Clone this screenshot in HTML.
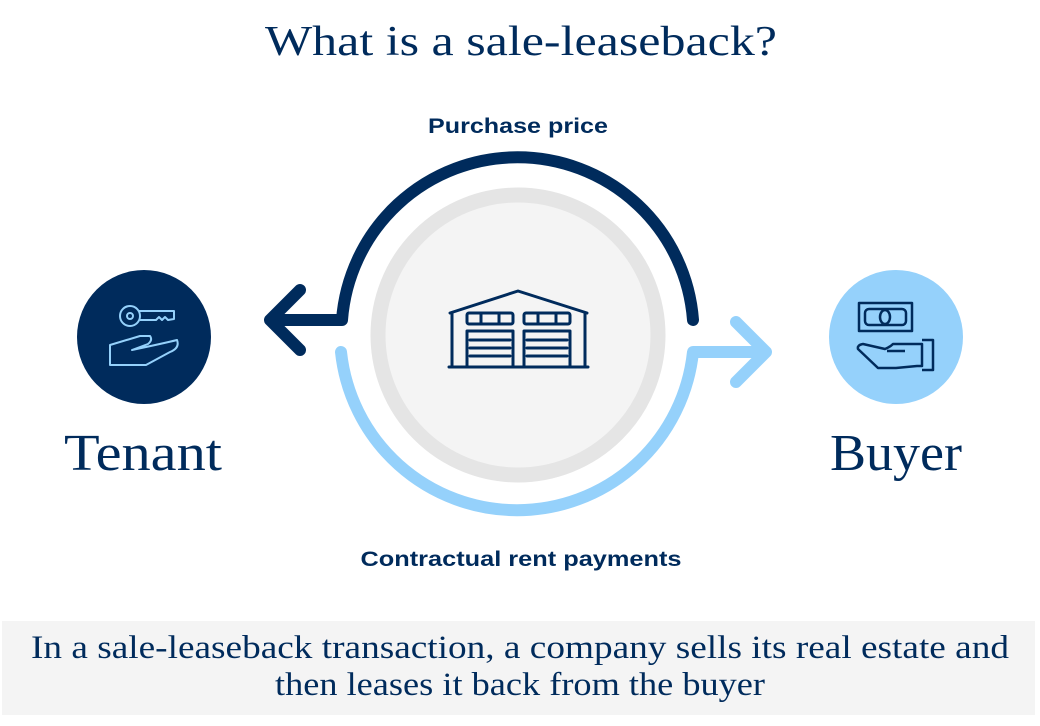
<!DOCTYPE html>
<html><head><meta charset="utf-8"><style>html,body{margin:0;padding:0;background:#fff}svg{display:block}</style></head>
<body>
<svg width="1040" height="726" viewBox="0 0 1040 726" xmlns="http://www.w3.org/2000/svg">
<text x="521" y="55" font-family="Liberation Serif, serif" font-size="42" fill="#002b5c" text-anchor="middle" textLength="512" lengthAdjust="spacingAndGlyphs">What is a sale-leaseback?</text>
<text x="518" y="133" font-family="Liberation Sans, sans-serif" font-weight="bold" font-size="21" fill="#002b5c" text-anchor="middle" textLength="180" lengthAdjust="spacingAndGlyphs">Purchase price</text>
<text x="521" y="566" font-family="Liberation Sans, sans-serif" font-weight="bold" font-size="21" fill="#002b5c" text-anchor="middle" textLength="321" lengthAdjust="spacingAndGlyphs">Contractual rent payments</text>

<circle cx="518" cy="335" r="140" fill="#f4f4f4" stroke="#e5e5e5" stroke-width="15"/>

<!-- dark arc -->
<path d="M693 320 A176 176 0 0 0 342 320 L272 320" fill="none" stroke="#002b5c" stroke-width="12" stroke-linecap="round" stroke-linejoin="round"/>
<path d="M300 290 L270 320 L300 350" fill="none" stroke="#002b5c" stroke-width="12" stroke-linecap="round" stroke-linejoin="round"/>
<!-- light arc -->
<path d="M341 352 A177 177 0 0 0 693 352 L765 352" fill="none" stroke="#95d1fb" stroke-width="12" stroke-linecap="round" stroke-linejoin="round"/>
<path d="M736 322 L766 352 L736 382" fill="none" stroke="#95d1fb" stroke-width="12" stroke-linecap="round" stroke-linejoin="round"/>

<!-- warehouse -->
<g fill="none" stroke="#002b5c" stroke-width="3" stroke-linecap="round" stroke-linejoin="round">
<path d="M450 313 L518 291 L587 313"/>
<path d="M452 313 L452 367 M585 313 L585 367 M449 367 L588 367"/>
<rect x="467" y="313" width="46" height="11" rx="2"/>
<rect x="524" y="313" width="46" height="11" rx="2"/>
<rect x="467" y="331" width="46" height="36"/>
<rect x="524" y="331" width="46" height="36"/>
<path d="M470 340 L510 340 M470 348 L510 348 M470 356 L510 356 M527 340 L567 340 M527 348 L567 348 M527 356 L567 356"/>
<path d="M481 314 L481 323 M499 314 L499 323 M538 314 L538 323 M556 314 L556 323"/>
</g>

<!-- tenant -->
<circle cx="144" cy="337" r="67" fill="#002b5c"/>
<g fill="none" stroke="#95d1fb" stroke-width="2" stroke-linejoin="round">
<circle cx="130" cy="316" r="10"/><circle cx="130" cy="316" r="3"/>
<path d="M139 311 L174 311 L174 319 L168 320 L165 317 L162 320 L159 317 L156 320 L140 320"/>
<path d="M110 345 L140 336 L150 336 Q153 340 148 344 L132 350 Q165 343 177 340 Q180 348 170 352 L146 365 L110 365 Z"/>
</g>

<!-- buyer -->
<circle cx="896" cy="337" r="67" fill="#95d1fb"/>
<g fill="none" stroke="#002b5c" stroke-width="2.5" stroke-linejoin="round">
<rect x="859" y="303" width="53" height="28"/>
<rect x="865" y="309" width="41" height="16" rx="4"/>
<ellipse cx="885" cy="317" rx="5" ry="7"/>
<path d="M858 349 Q857 345 863 344 L885 349 Q890 347 893 344 L922 344 L922 366 L917 366 L896 368 L878 368 Z"/>
<path d="M887 351 L905 351 M922 340 L933 340 L933 370 L922 370"/>
</g>

<text x="143" y="470" font-family="Liberation Serif, serif" font-size="52" fill="#002b5c" text-anchor="middle" textLength="158" lengthAdjust="spacingAndGlyphs">Tenant</text>
<text x="896" y="470" font-family="Liberation Serif, serif" font-size="52" fill="#002b5c" text-anchor="middle" textLength="132" lengthAdjust="spacingAndGlyphs">Buyer</text>

<rect x="2" y="621" width="1033" height="94" fill="#f4f4f4"/>
<text x="520" y="658" font-family="Liberation Serif, serif" font-size="33" fill="#002b5c" text-anchor="middle" textLength="978" lengthAdjust="spacingAndGlyphs">In a sale-leaseback transaction, a company sells its real estate and</text>
<text x="520" y="695" font-family="Liberation Serif, serif" font-size="33" fill="#002b5c" text-anchor="middle" textLength="490" lengthAdjust="spacingAndGlyphs">then leases it back from the buyer</text>
</svg>
</body></html>
